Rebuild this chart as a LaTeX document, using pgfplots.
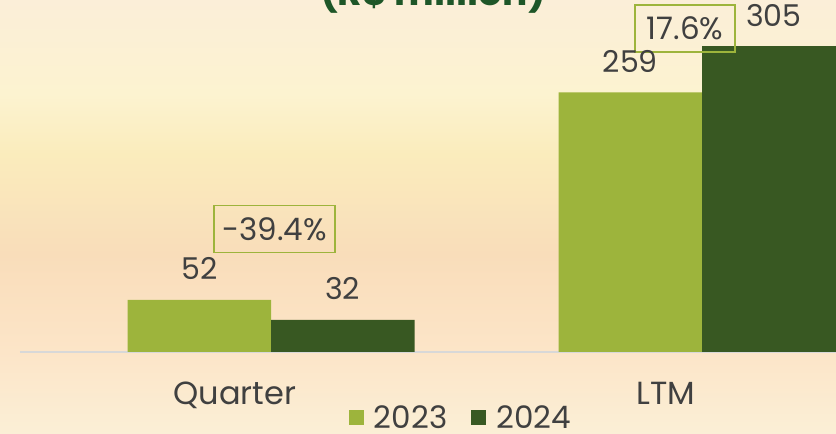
\documentclass[border=0pt]{standalone}
\usepackage{pgfplots}
\pgfplotsset{compat=1.18}
\usepackage{fontspec}
\setmainfont{Poppins}
\definecolor{c23}{RGB}{157,180,60}
\definecolor{c24}{RGB}{56,88,34}
\definecolor{txt}{RGB}{64,64,64}
\definecolor{ttl}{RGB}{30,86,40}
\definecolor{lgray}{RGB}{216,216,216}
\definecolor{b0}{RGB}{251,239,214}
\definecolor{b1}{RGB}{252,229,200}
\definecolor{b2}{RGB}{249,221,186}
\definecolor{b3}{RGB}{250,236,188}
\definecolor{b4}{RGB}{252,243,208}
\definecolor{b5}{RGB}{251,238,216}
\begin{document}
\begin{tikzpicture}
\useasboundingbox (0,0) rectangle (836pt,434pt);
\clip (0,0) rectangle (836pt,434pt);
\shade[bottom color=b0, top color=b1] (0,0) rectangle (836pt,82pt);
\shade[bottom color=b1, top color=b2] (0,82pt) rectangle (836pt,180pt);
\shade[bottom color=b2, top color=b3] (0,180pt) rectangle (836pt,280pt);
\shade[bottom color=b3, top color=b4] (0,280pt) rectangle (836pt,340pt);
\shade[bottom color=b4, top color=b5] (0,340pt) rectangle (836pt,434pt);
\node[font=\fontsize{37.5}{44}\selectfont\bfseries, text=ttl, anchor=base] at (433pt,428pt) {(R\$ million)};
\begin{axis}[
  at={(20pt,82pt)}, anchor=south west, scale only axis,
  width=816pt, height=352pt,
  xmin=-0.5824, xmax=1.3109, ymin=0, ymax=351,
  ybar=0pt, bar width=143.5pt,
  axis x line*=bottom, axis y line=none,
  x axis line style={draw=lgray, line width=1.5pt},
  xtick={0,1}, xticklabels={Quarter,LTM}, major tick length=0pt,
  xticklabel style={font=\fontsize{32}{38}\selectfont, text=txt, anchor=base, inner sep=0pt, yshift=-53pt, xshift=-36pt},
  ytick=\empty,
  nodes near coords,
  nodes near coords style={font=\fontsize{30}{36}\selectfont, text=txt, anchor=base, inner sep=0pt, yshift=20pt},
  /pgf/number format/assume math mode=true,
  clip=false,
  legend columns=2,
  legend style={draw=none, fill=none, at={(0.5404,-0.187)}, anchor=center,
    font=\fontsize{31}{36}\selectfont, text=txt,
    /tikz/every odd column/.append style={column sep=8pt},
    /tikz/every even column/.append style={column sep=22pt}},
  legend image code/.code={\fill[#1] (0pt,-7pt) rectangle (15pt,8pt);},
]
\addplot[fill=c23, draw=none] coordinates {(0,52) (1,259)};
\addplot[fill=c24, draw=none] coordinates {(0,32) (1,305)};
\legend{2023,2024}
\node[draw=c23, line width=1.5pt, minimum width=121pt, minimum height=47pt, inner sep=0pt, font=\fontsize{31}{36}\selectfont, text=txt] at (axis cs:0.008,122.6) {-39.4\%};
\node[draw=c23, line width=1.5pt, minimum width=100pt, minimum height=47pt, inner sep=0pt, font=\fontsize{31}{36}\selectfont, text=txt] at (axis cs:0.9606,322.5) {17.6\%};
\end{axis}
\end{tikzpicture}
\end{document}
